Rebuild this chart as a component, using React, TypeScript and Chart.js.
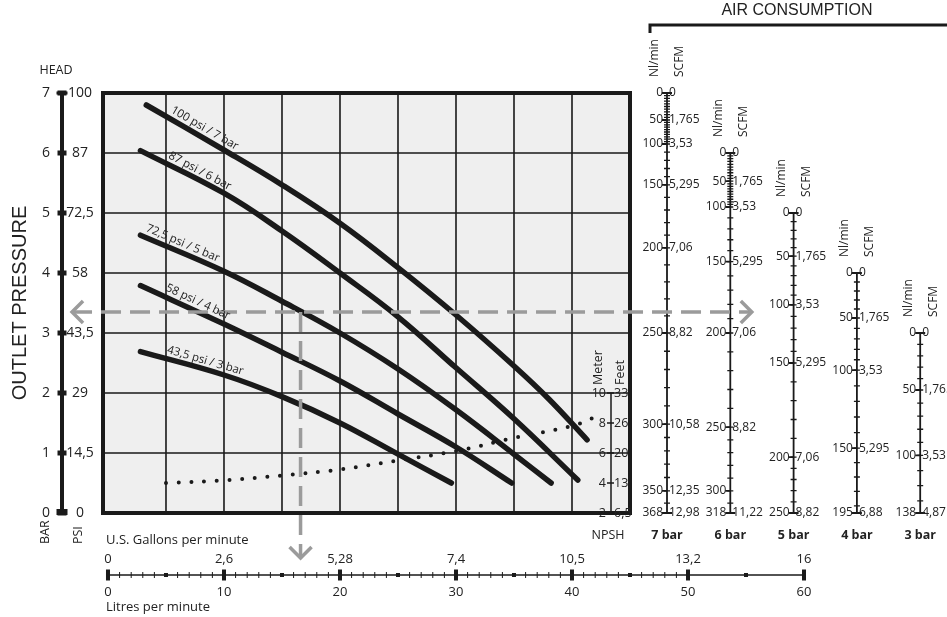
import { useEffect, useRef } from 'react';
import { Chart, registerables } from 'chart.js';

Chart.register(...registerables);

// ---- axes & tick labels ----
const FLOW_GRID = [5, 10, 15, 20, 25, 30, 35, 40];
const HEAD_GRID = [1, 2, 3, 4, 5, 6];
const BAR_TICKS = [0, 1, 2, 3, 4, 5, 6, 7];
const PSI_LABELS = ['0', '14,5', '29', '43,5', '58', '72,5', '87', '100'];
const LITRE_TICKS = [0, 10, 20, 30, 40, 50, 60];
const GALLON_LABELS = ['0', '2,6', '5,28', '7,4', '10,5', '13,2', '16'];
const NPSH_METER_TICKS = [2, 4, 6, 8, 10];
const NPSH_FEET_LABELS = ['6,5', '13', '20', '26', '33'];

// ---- pump curves: flow (l/min) -> head (bar) ----
const CURVE_NAMES = ['100 psi / 7 bar', '87 psi / 6 bar', '72,5 psi / 5 bar', '58 psi / 4 bar', '43,5 psi / 3 bar'];
const FLOW_7 = [3.3, 10, 15, 20, 25, 30, 35, 38, 41.3];
const HEAD_7 = [6.8, 6.05, 5.47, 4.83, 4.09, 3.3, 2.45, 1.9, 1.22];
const FLOW_6 = [2.8, 10, 15, 20, 25, 30, 35, 40.5];
const HEAD_6 = [6.04, 5.33, 4.7, 4.0, 3.27, 2.42, 1.57, 0.55];
const FLOW_5 = [2.8, 10, 15, 20, 25, 30, 35, 38.2];
const HEAD_5 = [4.63, 4.03, 3.53, 3.0, 2.4, 1.72, 0.98, 0.5];
const FLOW_4 = [2.8, 10, 15, 20, 25, 30, 34.8];
const HEAD_4 = [3.79, 3.15, 2.68, 2.2, 1.65, 1.1, 0.5];
const FLOW_3 = [2.8, 10, 15, 20, 25, 29.6];
const HEAD_3 = [2.69, 2.3, 1.94, 1.5, 0.98, 0.5];
const LABEL_FLOW = [5.1, 4.9, 3.0, 4.7, 4.9];

// ---- NPSH (meter) ----
const NPSH_FLOW = [5, 10, 15, 20, 25, 30, 35, 40, 41.7];
const NPSH_METER = [4.0, 4.18, 4.5, 4.9, 5.5, 6.13, 7.0, 7.8, 8.3];

// ---- example duty point ----
const DUTY_FLOW = 16.6;
const DUTY_HEAD = 3.35;
const GUIDE_FLOW_ENDS = [-3.1, 55.5];
const GUIDE_HEAD_END = -0.75;

// ---- air consumption scales (Nl/min at head position in bar) ----
const AIR_NAMES = ['7 bar', '6 bar', '5 bar', '4 bar', '3 bar'];
const AIR_NL_7 = [0, 50, 100, 150, 200, 250, 300, 350, 368];
const AIR_POS_7 = [7, 6.55, 6.15, 5.47, 4.42, 3.0, 1.48, 0.37, 0];
const AIR_SCFM_7 = ['0', '1,765', '3,53', '5,295', '7,06', '8,82', '10,58', '12,35', '12,98'];
const AIR_NL_6 = [0, 50, 100, 150, 200, 250, 300, 318];
const AIR_POS_6 = [6, 5.53, 5.1, 4.19, 3.0, 1.43, 0.37, 0];
const AIR_SCFM_6 = ['0', '1,765', '3,53', '5,295', '7,06', '8,82', '', '11,22'];
const AIR_NL_5 = [0, 50, 100, 150, 200, 250];
const AIR_POS_5 = [5, 4.28, 3.47, 2.5, 0.93, 0];
const AIR_SCFM_5 = ['0', '1,765', '3,53', '5,295', '7,06', '8,82'];
const AIR_NL_4 = [0, 50, 100, 150, 195];
const AIR_POS_4 = [4, 3.25, 2.38, 1.08, 0];
const AIR_SCFM_4 = ['0', '1,765', '3,53', '5,295', '6,88'];
const AIR_NL_3 = [0, 50, 100, 138];
const AIR_POS_3 = [3, 2.05, 0.96, 0];
const AIR_SCFM_3 = ['0', '1,765', '3,53', '4,87'];

const CURVES = [
  [FLOW_7, HEAD_7], [FLOW_6, HEAD_6], [FLOW_5, HEAD_5], [FLOW_4, HEAD_4], [FLOW_3, HEAD_3],
];
const AIR = [
  [AIR_NL_7, AIR_POS_7, AIR_SCFM_7], [AIR_NL_6, AIR_POS_6, AIR_SCFM_6], [AIR_NL_5, AIR_POS_5, AIR_SCFM_5],
  [AIR_NL_4, AIR_POS_4, AIR_SCFM_4], [AIR_NL_3, AIR_POS_3, AIR_SCFM_3],
] as [number[], number[], string[]][];

const INK = '#1a1a1a';
const TXT = '#222';
const GUIDE = '#9b9b9b';
const SANS = '"Open Sans", "Noto Sans", sans-serif';
const ARIAL = '"Liberation Sans", Arial, sans-serif';

function interp(xs: number[], ys: number[], x: number) {
  if (x <= xs[0]) return ys[0];
  for (let i = 1; i < xs.length; i++) {
    if (x <= xs[i]) {
      const t = (x - xs[i - 1]) / (xs[i] - xs[i - 1]);
      return ys[i - 1] + t * (ys[i] - ys[i - 1]);
    }
  }
  return ys[ys.length - 1];
}

function vtext(ctx: CanvasRenderingContext2D, text: string, x: number, y: number, font: string, align: CanvasTextAlign = 'left') {
  ctx.save();
  ctx.translate(x, y);
  ctx.rotate(-Math.PI / 2);
  ctx.font = font;
  ctx.textAlign = align;
  ctx.textBaseline = 'middle';
  ctx.fillText(text, 0, 0);
  ctx.restore();
}

const decor = {
  id: 'decor',
  beforeDatasetsDraw(chart: any) {
    const { ctx, chartArea: ca, scales } = chart;
    const X = (v: number) => scales.x.getPixelForValue(v);
    const Y = (v: number) => scales.y.getPixelForValue(v);
    const YN = (v: number) => scales.yN.getPixelForValue(v);
    ctx.save();
    // plot background
    ctx.fillStyle = '#efefef';
    ctx.fillRect(ca.left, ca.top, ca.width, ca.height);
    // grid
    ctx.strokeStyle = INK;
    ctx.lineWidth = 1.6;
    ctx.beginPath();
    FLOW_GRID.forEach((v) => { const p = X(v); ctx.moveTo(p, ca.top); ctx.lineTo(p, ca.bottom); });
    HEAD_GRID.forEach((v) => { const p = Y(v); ctx.moveTo(ca.left, p); ctx.lineTo(ca.right, p); });
    ctx.stroke();
    // frame
    ctx.lineWidth = 4;
    ctx.strokeRect(ca.left, ca.top, ca.width, ca.height);

    // NPSH axis inside plot
    const nx = ca.right - 19;
    ctx.lineWidth = 1.5;
    ctx.beginPath();
    ctx.moveTo(nx, YN(NPSH_METER_TICKS[0]));
    ctx.lineTo(nx, YN(NPSH_METER_TICKS[NPSH_METER_TICKS.length - 1]));
    NPSH_METER_TICKS.forEach((m) => { ctx.moveTo(nx - 4, YN(m)); ctx.lineTo(nx + 3, YN(m)); });
    ctx.stroke();
    ctx.fillStyle = TXT;
    ctx.font = `12.5px ${SANS}`;
    ctx.textBaseline = 'middle';
    NPSH_METER_TICKS.forEach((m, i) => {
      ctx.textAlign = 'right';
      ctx.fillText(String(m), nx - 5, YN(m));
      ctx.textAlign = 'left';
      ctx.fillText(NPSH_FEET_LABELS[i], nx + 3, YN(m));
    });
    const topN = YN(NPSH_METER_TICKS[NPSH_METER_TICKS.length - 1]);
    vtext(ctx, 'Meter', nx - 13, topN - 8, `12.5px ${SANS}`);
    vtext(ctx, 'Feet', nx + 9, topN - 8, `12.5px ${SANS}`);
    ctx.font = `12.5px ${SANS}`;
    ctx.textAlign = 'center';
    ctx.fillText('NPSH', nx - 3, ca.bottom + 22);

    // left axis (bar / psi)
    const ax = ca.left - 41;
    ctx.fillStyle = INK;
    ctx.fillRect(ax - 2, Y(7), 4, Y(0) - Y(7));
    BAR_TICKS.forEach((b) => {
      const p = Y(b);
      ctx.fillRect(ax - 4.5, p - 2.5, 9, 5);
    });
    ctx.fillRect(ax - 5.5, Y(7) - 1.5, 11, 3);
    ctx.fillRect(ax - 5.5, Y(0) - 4, 11, 6);
    ctx.fillStyle = TXT;
    ctx.font = `14px ${SANS}`;
    ctx.textBaseline = 'middle';
    ctx.textAlign = 'center';
    BAR_TICKS.forEach((b, i) => {
      ctx.fillText(String(b), ax - 16, Y(b));
      ctx.fillText(PSI_LABELS[i], ax + 18, Y(b));
    });
    ctx.font = `12.5px ${SANS}`;
    ctx.fillText('HEAD', ax - 6, Y(7) - 23);
    vtext(ctx, 'BAR', ax - 17, Y(0) + 31, `12.5px ${SANS}`);
    vtext(ctx, 'PSI', ax + 16, Y(0) + 31, `12.5px ${SANS}`);
    vtext(ctx, 'OUTLET PRESSURE', ax - 42, (ca.top + ca.bottom) / 2, `20px ${ARIAL}`, 'center');

    // bottom flow axis
    const by = ca.bottom + 62;
    ctx.strokeStyle = INK;
    ctx.lineWidth = 1.5;
    ctx.beginPath();
    ctx.moveTo(X(LITRE_TICKS[0]), by);
    ctx.lineTo(X(LITRE_TICKS[LITRE_TICKS.length - 1]), by);
    ctx.stroke();
    ctx.fillStyle = INK;
    ctx.lineWidth = 1;
    for (let v = LITRE_TICKS[0]; v <= LITRE_TICKS[LITRE_TICKS.length - 1]; v++) {
      const p = X(v);
      if (v % 10 === 0) ctx.fillRect(p - 2, by - 5.5, 4, 11);
      else if (v % 5 === 0) ctx.fillRect(p - 2, by - 2, 4, 4);
      else if (v < 50) {
        ctx.beginPath(); ctx.moveTo(p, by - 3); ctx.lineTo(p, by + 3); ctx.stroke();
      }
    }
    ctx.fillStyle = TXT;
    ctx.font = `13px ${SANS}`;
    ctx.textAlign = 'center';
    LITRE_TICKS.forEach((v, i) => {
      ctx.fillText(GALLON_LABELS[i], X(v), by - 16);
      ctx.fillText(String(v), X(v), by + 17);
    });
    ctx.textAlign = 'left';
    ctx.fillText('U.S. Gallons per minute', X(0) - 2, by - 35);
    ctx.fillText('Litres per minute', X(0) - 2, by + 32);

    // air consumption scales
    const y0 = ca.bottom + 22;
    AIR.forEach(([nl, pos, scfm], i) => {
      const sx = ca.right + 37 + i * 63.3;
      const M = (v: number) => Y(interp(nl, pos, v));
      const max = nl[nl.length - 1];
      ctx.strokeStyle = INK;
      ctx.lineWidth = 1.8;
      ctx.beginPath();
      ctx.moveTo(sx, M(0));
      ctx.lineTo(sx, M(max));
      ctx.moveTo(sx - 5, M(0));
      ctx.lineTo(sx + 5, M(0));
      ctx.moveTo(sx, M(max));
      ctx.lineTo(sx + 5, M(max));
      nl.forEach((v) => { ctx.moveTo(sx - 5, M(v)); ctx.lineTo(sx, M(v)); });
      ctx.stroke();
      ctx.lineWidth = 1.3;
      ctx.beginPath();
      for (let v = 5; v < max; v += 5) {
        const dense = Math.abs(M(v + 5) - M(v - 5)) < 7.5;
        if (v % 10 === 0 || dense) {
          ctx.moveTo(sx - 3, M(v)); ctx.lineTo(sx + 3, M(v));
        }
      }
      ctx.stroke();
      ctx.fillStyle = TXT;
      ctx.font = `12px ${SANS}`;
      ctx.textBaseline = 'middle';
      nl.forEach((v, k) => {
        ctx.textAlign = 'right';
        ctx.fillText(String(v), sx - 4, M(v));
        ctx.textAlign = 'left';
        ctx.fillText(scfm[k], sx + 2, M(v));
      });
      vtext(ctx, 'Nl/min', sx - 12, M(0) - 16, `12px ${SANS}`);
      vtext(ctx, 'SCFM', sx + 13, M(0) - 16, `12px ${SANS}`);
      ctx.font = `bold 12.5px ${SANS}`;
      ctx.textAlign = 'center';
      ctx.fillText(AIR_NAMES[i], sx, y0);
    });
    // bracket + title
    const bx = ca.right + 20;
    ctx.strokeStyle = INK;
    ctx.lineWidth = 3;
    ctx.beginPath();
    ctx.moveTo(bx, 33);
    ctx.lineTo(bx, 25);
    ctx.lineTo(chart.width, 25);
    ctx.stroke();
    ctx.fillStyle = TXT;
    ctx.font = `16px ${ARIAL}`;
    ctx.textAlign = 'center';
    ctx.textBaseline = 'middle';
    ctx.fillText('AIR CONSUMPTION', 797, 11);
    ctx.restore();
  },
  afterDatasetsDraw(chart: any) {
    const { ctx, scales } = chart;
    const X = (v: number) => scales.x.getPixelForValue(v);
    const Y = (v: number) => scales.y.getPixelForValue(v);
    ctx.save();
    // arrowheads on guide lines
    ctx.strokeStyle = GUIDE;
    ctx.lineWidth = 3.5;
    const hy = Y(DUTY_HEAD);
    const chev = (tx: number, ty: number, dx: number, dy: number) => {
      const px = -dy, py = dx;
      ctx.beginPath();
      ctx.moveTo(tx - 11 * dx + 11 * px, ty - 11 * dy + 11 * py);
      ctx.lineTo(tx, ty);
      ctx.lineTo(tx - 11 * dx - 11 * px, ty - 11 * dy - 11 * py);
      ctx.stroke();
    };
    chev(X(GUIDE_FLOW_ENDS[0]), hy, -1, 0);
    chev(X(GUIDE_FLOW_ENDS[1]), hy, 1, 0);
    chev(X(DUTY_FLOW), Y(GUIDE_HEAD_END), 0, 1);
    // curve labels
    ctx.fillStyle = TXT;
    ctx.font = `11.5px ${SANS}`;
    ctx.textAlign = 'left';
    ctx.textBaseline = 'alphabetic';
    CURVES.forEach(([fx, hy2], i) => {
      const f0 = LABEL_FLOW[i];
      const x1 = X(f0), y1 = Y(interp(fx, hy2, f0));
      const x2 = X(f0 + 6), y2 = Y(interp(fx, hy2, f0 + 6));
      const a = Math.atan2(y2 - y1, x2 - x1);
      ctx.save();
      ctx.translate(x1 + 6 * Math.sin(a), y1 - 6 * Math.cos(a));
      ctx.rotate(a);
      ctx.fillText(CURVE_NAMES[i], 0, 0);
      ctx.restore();
    });
    ctx.restore();
  },
};

export default function App() {
  const ref = useRef<HTMLCanvasElement>(null);
  useEffect(() => {
    document.body.style.margin = '0';
    const curveSets = CURVES.map(([fx, hy], i) => ({
      label: CURVE_NAMES[i],
      data: fx.map((f, k) => ({ x: f, y: hy[k] })),
      borderColor: INK,
      borderWidth: 5.5,
      borderCapStyle: 'round' as const,
      tension: 0.4,
      pointRadius: 0,
      yAxisID: 'y',
    }));
    const chart = new Chart(ref.current!, {
      type: 'line',
      data: {
        datasets: [
          {
            label: 'guide-h',
            data: GUIDE_FLOW_ENDS.map((f) => ({ x: f, y: DUTY_HEAD })),
            borderColor: GUIDE, borderWidth: 3.5, borderDash: [20, 9], pointRadius: 0, clip: false, yAxisID: 'y',
          } as any,
          {
            label: 'guide-v',
            data: [{ x: DUTY_FLOW, y: DUTY_HEAD }, { x: DUTY_FLOW, y: GUIDE_HEAD_END }],
            borderColor: GUIDE, borderWidth: 3.5, borderDash: [20, 9], pointRadius: 0, clip: false, yAxisID: 'y',
          },
          ...curveSets,
          {
            label: 'NPSH',
            data: NPSH_FLOW.map((f, k) => ({ x: f, y: NPSH_METER[k] })),
            borderColor: INK, borderWidth: 4, borderDash: [0, 12.7], borderCapStyle: 'round',
            tension: 0.4, pointRadius: 0, yAxisID: 'yN',
          },
        ],
      },
      options: {
        animation: false,
        responsive: true,
        maintainAspectRatio: false,
        layout: { padding: { left: 103, top: 93, right: 317, bottom: 104 } },
        plugins: { legend: { display: false }, tooltip: { enabled: false } },
        events: [],
        scales: {
          x: { type: 'linear', min: -0.43, max: 45, display: false },
          y: { type: 'linear', min: 0, max: 7, display: false },
          yN: { type: 'linear', min: 2, max: 30, display: false },
        },
      },
      plugins: [decor],
    });
    return () => chart.destroy();
  }, []);
  return (
    <div style={{ width: 947, height: 617, position: 'relative' }}>
      <canvas ref={ref} />
    </div>
  );
}
